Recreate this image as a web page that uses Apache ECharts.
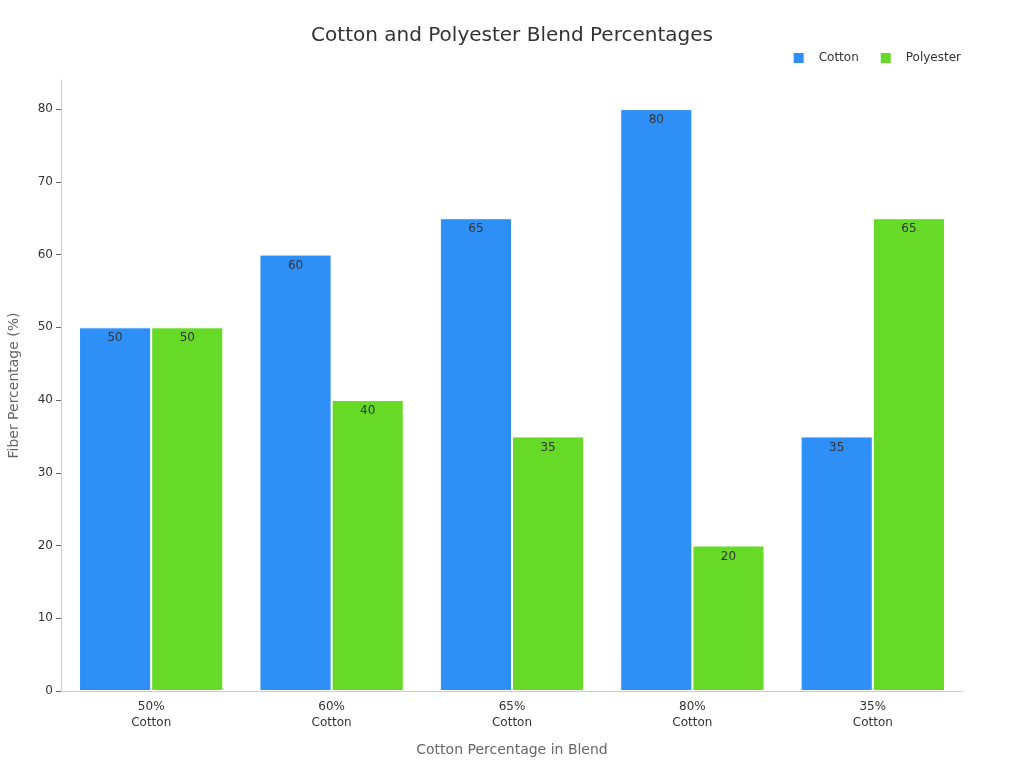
<!DOCTYPE html>
<html>
<head>
<meta charset="utf-8">
<script src="https://cdn.jsdelivr.net/npm/echarts@6/dist/echarts.min.js"></script>
<style>html,body{margin:0;padding:0;background:#fff}#c{width:1024px;height:768px}</style>
</head>
<body>
<div id="c"></div>
<script>
const categories = ['50%\nCotton', '60%\nCotton', '65%\nCotton', '80%\nCotton', '35%\nCotton'];
const cotton = [50, 60, 65, 80, 35];
const polyester = [50, 40, 35, 20, 65];
const yTicks = [0, 10, 20, 30, 40, 50, 60, 70, 80];

const chart = echarts.init(document.getElementById('c'));
const font = 'DejaVu Sans';
chart.setOption({
  backgroundColor: '#fff',
  textStyle: { fontFamily: font },
  title: {
    text: 'Cotton and Polyester Blend Percentages',
    left: 'center', top: 21,
    textStyle: { fontFamily: font, fontSize: 20, fontWeight: 'normal', color: '#333' }
  },
  legend: {
    right: 58, top: 46,
    itemWidth: 12, itemHeight: 12, itemGap: 20,
    icon: 'rect',
    textStyle: { fontFamily: font, fontSize: 12, color: '#333', padding: [0, 0, 0, 9] },
    data: ['Cotton', 'Polyester']
  },
  grid: { left: 61, right: 61, top: 80, bottom: 77, outerBoundsMode: 'none' },
  xAxis: {
    type: 'category',
    data: categories,
    name: 'Cotton Percentage in Blend',
    nameLocation: 'middle',
    nameGap: 52,
    nameTextStyle: { fontFamily: font, fontSize: 14, color: '#666' },
    axisLine: { lineStyle: { color: '#ccc' } },
    axisTick: { alignWithLabel: true, lineStyle: { color: '#666' } },
    axisLabel: { fontFamily: font, fontSize: 12, color: '#333', lineHeight: 16 }
  },
  yAxis: {
    type: 'value',
    min: 0, max: 84,
    name: 'Fiber Percentage (%)',
    nameLocation: 'middle',
    nameGap: 40,
    nameTextStyle: { fontFamily: font, fontSize: 14, color: '#666' },
    axisLine: { show: true, lineStyle: { color: '#ccc' } },
    axisTick: { show: true, customValues: yTicks, lineStyle: { color: '#666' } },
    axisLabel: { fontFamily: font, fontSize: 12, color: '#333', customValues: yTicks },
    splitLine: { show: false }
  },
  series: [
    {
      name: 'Cotton', type: 'bar', data: cotton,
      barGap: '0%', barCategoryGap: '20%',
      itemStyle: { color: '#2E90F7', borderColor: '#fff', borderWidth: 1 },
      label: { show: true, position: 'insideTop', fontFamily: font, fontSize: 12, color: '#333' }
    },
    {
      name: 'Polyester', type: 'bar', data: polyester,
      itemStyle: { color: '#66DA26', borderColor: '#fff', borderWidth: 1 },
      label: { show: true, position: 'insideTop', fontFamily: font, fontSize: 12, color: '#333' }
    }
  ]
});
</script>
</body>
</html>
